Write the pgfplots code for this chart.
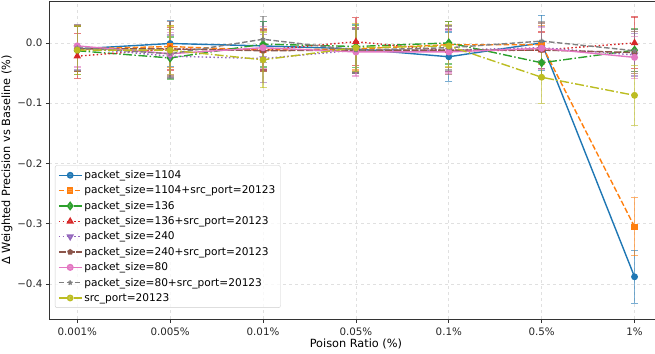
\documentclass[border=0pt]{standalone}
\usepackage{pgfplots}
\pgfplotsset{compat=1.18}
\usepackage{fontspec}
\setmainfont{DejaVu Sans}
\definecolor{c1}{HTML}{1F77B4}
\definecolor{c2}{HTML}{FF7F0E}
\definecolor{c3}{HTML}{2CA02C}
\definecolor{c4}{HTML}{D62728}
\definecolor{c5}{HTML}{9467BD}
\definecolor{c6}{HTML}{8C564B}
\definecolor{c7}{HTML}{E377C2}
\definecolor{c8}{HTML}{7F7F7F}
\definecolor{c9}{HTML}{BCBD22}
\pgfplotstableread{
x y e
0 -0.010 0.038
1 -0.001 0.038
2 -0.005 0.040
3 -0.010 0.040
4 -0.023 0.041
5 0.000 0.046
6 -0.388 0.044
}\sA
\pgfplotstableread{
x y e
0 -0.010 0.038
1 -0.006 0.035
2 -0.012 0.035
3 -0.010 0.035
4 -0.003 0.038
5 -0.003 0.032
6 -0.305 0.048
}\sB
\pgfplotstableread{
x y e
0 -0.013 0.040
1 -0.025 0.035
2 -0.002 0.038
3 -0.006 0.035
4 0.000 0.035
5 -0.033 0.025
6 -0.012 0.035
}\sC
\pgfplotstableread{
x y e
0 -0.022 0.037
1 -0.010 0.035
2 -0.012 0.033
3 0.002 0.040
4 -0.013 0.035
5 -0.012 0.030
6 0.000 0.043
}\sD
\pgfplotstableread{
x y e
0 -0.008 0.037
1 -0.022 0.035
2 -0.026 0.040
3 -0.012 0.035
4 -0.012 0.035
5 -0.008 0.035
6 -0.020 0.035
}\sE
\pgfplotstableread{
x y e
0 -0.010 0.038
1 -0.010 0.045
2 -0.013 0.035
3 -0.012 0.038
4 -0.012 0.040
5 -0.012 0.045
6 -0.016 0.035
}\sF
\pgfplotstableread{
x y e
0 -0.005 0.035
1 -0.018 0.035
2 -0.008 0.035
3 -0.015 0.040
4 -0.015 0.035
5 -0.009 0.035
6 -0.024 0.035
}\sG
\pgfplotstableread{
x y e
0 -0.008 0.038
1 -0.018 0.040
2 0.006 0.038
3 -0.012 0.035
4 -0.008 0.037
5 0.003 0.033
6 -0.013 0.035
}\sH
\pgfplotstableread{
x y e
0 -0.012 0.040
1 -0.012 0.040
2 -0.028 0.046
3 -0.008 0.040
4 -0.005 0.035
5 -0.057 0.043
6 -0.087 0.050
}\sI
\begin{document}
\begin{tikzpicture}
\begin{axis}[
  at={(0,0)}, anchor=south west,
  scale only axis, width=613pt, height=318pt,
  xmin=-0.3, xmax=6.3, ymin=-0.458, ymax=0.0695,
  xtick={0,1,2,3,4,5,6},
  xticklabels={0.001\%,0.005\%,0.01\%,0.05\%,0.1\%,0.5\%,1\%},
  ytick={-0.4,-0.3,-0.2,-0.1,0},
  yticklabels={−0.4,−0.3,−0.2,−0.1,0.0},
  tick label style={font=\fontsize{10.3}{12}\selectfont, text=black!85},
  xticklabel style={yshift=-1.5pt},
  xtick pos=left, ytick pos=left, tick align=outside,
  major tick length=3.5pt,
  every tick/.style={black!80, line width=0.7pt},
  axis line style={black!80, line width=0.8pt},
  grid=major,
  grid style={dashed, black!12, line width=0.6pt},
  xlabel={Poison Ratio (\%)},
  ylabel={Δ Weighted Precision vs Baseline (\%)},
  label style={font=\fontsize{11.3}{13}\selectfont},
  xlabel style={yshift=3pt},
  ylabel style={yshift=-2pt},
  legend style={at={(rel axis cs:0.009,0.035)}, anchor=south west,
    font=\fontsize{10.6}{12}\selectfont, draw=black!20, rounded corners=2pt,
    fill=white, fill opacity=0.8, text opacity=1,
    row sep=1.8pt, inner sep=3pt},
  legend cell align=left,
  legend image code/.code={\draw[mark repeat=2, mark phase=2] plot coordinates {(0cm,0cm) (0.4cm,0cm) (0.8cm,0cm)};},
  every axis plot/.append style={line width=1.4pt,
    error bars/y dir=both, error bars/y explicit,
    error bars/error bar style={solid, line width=1.3pt, opacity=0.6},
    error bars/error mark options={solid, line width=1.3pt, opacity=0.6, mark size=3.5pt, rotate=90}},
]
\addplot[c1, solid, mark=*, mark size=2.7pt, mark options={solid}] table[x=x,y=y,y error=e]{\sA};
\addlegendentry{packet\_size=1104}
\addplot[c2, dash pattern=on 5.5pt off 2.4pt, mark=square*, mark size=2.5pt, mark options={solid}] table[x=x,y=y,y error=e]{\sB};
\addlegendentry{packet\_size=1104+src\_port=20123}
\addplot[c3, dash pattern=on 9pt off 2.4pt on 1.5pt off 2.4pt, mark=diamond*, mark size=3.6pt, mark options={solid}] table[x=x,y=y,y error=e]{\sC};
\addlegendentry{packet\_size=136}
\addplot[c4, dash pattern=on 1.5pt off 2.4pt, mark=triangle*, mark size=3pt, mark options={solid}] table[x=x,y=y,y error=e]{\sD};
\addlegendentry{packet\_size=136+src\_port=20123}
\addplot[c5, dash pattern=on 1.5pt off 2.4pt, mark=triangle*, mark size=3pt, mark options={solid, rotate=180}] table[x=x,y=y,y error=e]{\sE};
\addlegendentry{packet\_size=240}
\addplot[c6, dash pattern=on 7pt off 1.8pt, mark=pentagon*, mark size=2.3pt, mark options={solid}] table[x=x,y=y,y error=e]{\sF};
\addlegendentry{packet\_size=240+src\_port=20123}
\addplot[c7, solid, mark=*, mark size=2.8pt, mark options={solid}] table[x=x,y=y,y error=e]{\sG};
\addlegendentry{packet\_size=80}
\addplot[c8, dash pattern=on 5.5pt off 2.4pt, mark=star, mark size=2.4pt, mark options={solid}] table[x=x,y=y,y error=e]{\sH};
\addlegendentry{packet\_size=80+src\_port=20123}
\addplot[c9, dash pattern=on 9pt off 2.4pt on 1.5pt off 2.4pt, mark=*, mark size=2.7pt, mark options={solid}] table[x=x,y=y,y error=e]{\sI};
\addlegendentry{src\_port=20123}
\end{axis}
\pgfresetboundingbox
\path[use as bounding box] (-49.4pt,-34pt) rectangle (605.6pt,319pt);
\end{tikzpicture}
\end{document}
